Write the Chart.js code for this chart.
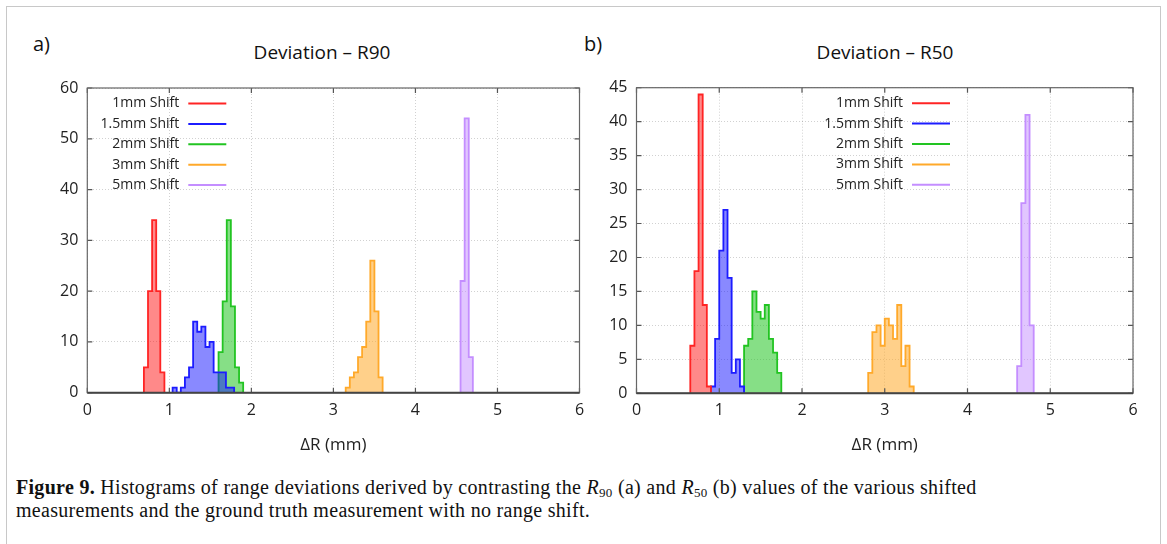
<!DOCTYPE html>
<html><head><meta charset="utf-8">
<script src="https://cdn.jsdelivr.net/npm/chart.js@4"></script>
<style>
html,body{margin:0;padding:0;background:#fff;overflow:hidden;width:1167px;height:544px;}
#frame{position:absolute;left:6px;top:6px;width:1153px;height:620px;border:1px solid #c8c8c8;}
canvas{position:absolute;}
.lbl{position:absolute;font-family:'Open Sans',sans-serif;font-size:20px;color:#111;white-space:nowrap;line-height:24px;}
.ttl{position:absolute;font-family:'Open Sans',sans-serif;font-size:19px;color:#111;white-space:nowrap;width:300px;text-align:center;line-height:24px;}
#cap{position:absolute;left:16px;top:476px;font-family:'Liberation Serif',serif;font-size:20px;letter-spacing:0.3px;line-height:23px;color:#111;white-space:nowrap;}
#cap sub{font-size:13px;vertical-align:-3px;line-height:0;}
</style></head>
<body>
<div id="frame"></div>
<div class="lbl" style="left:33px;top:32px;">a)</div>
<div class="lbl" style="left:584px;top:32px;">b)</div>
<div class="ttl" style="left:172px;top:40px;">Deviation – R90</div>
<div class="ttl" style="left:735px;top:40px;">Deviation – R50</div>
<canvas id="ca" width="600" height="470" style="left:0;top:0;"></canvas>
<canvas id="cb" width="577" height="470" style="left:590px;top:0;"></canvas>
<div id="cap"><b>Figure 9.</b> Histograms of range deviations derived by contrasting the <i>R</i><sub>90</sub> (a) and <i>R</i><sub>50</sub> (b) values of the various shifted<br>measurements and the ground truth measurement with no range shift.</div>
<script>
// ---- data ----
const seriesLabels = ['1mm Shift', '1.5mm Shift', '2mm Shift', '3mm Shift', '5mm Shift'];
const binWidth = 0.05;
const xTickValues = [0, 1, 2, 3, 4, 5, 6];
// Panel a: R90 deviations (first bin left edge, counts per bin)
const r90Start = [0.69, 1.04, 1.60, 3.15, 4.55];
const r90_1mm   = [5, 20, 34, 20, 4];
const r90_1p5mm = [1, 0, 1, 3, 5, 14, 12, 13, 9, 10, 4, 4, 4, 1, 1];
const r90_2mm   = [8, 18, 34, 17, 5, 2];
const r90_3mm   = [1, 3, 4, 7, 9, 14, 26, 16, 3];
const r90_5mm   = [22, 54, 7];
// Panel b: R50 deviations
const r50Start = [0.65, 0.90, 1.30, 2.80, 4.60];
const r50_1mm   = [7, 18, 44, 13, 1];
const r50_1p5mm = [1, 8, 21, 27, 17, 3, 5, 1];
const r50_2mm   = [7, 8, 15, 12, 11, 13, 8, 6, 3];
const r50_3mm   = [3, 9, 10, 7, 11, 10, 8, 13, 4, 7, 1];
const r50_5mm   = [4, 28, 41, 10];

// ---- styles ----
const lineColors = ['#ff2424', '#1c1cff', '#22c422', '#ffa92a', '#c48eff'];
const fillColors = ['rgba(255,20,20,0.5)', 'rgba(20,20,255,0.5)', 'rgba(34,196,34,0.55)', 'rgba(255,169,42,0.55)', 'rgba(196,142,255,0.5)'];
const FONT = "'Open Sans', sans-serif";

function histPoints(start, counts) {
  const pts = [{x: start, y: 0}];
  counts.forEach((c, i) => pts.push({x: start + i * binWidth, y: c}));
  pts.push({x: start + counts.length * binWidth, y: 0});
  return pts;
}

function datasets(starts, groups) {
  return groups.map((g, i) => ({
    label: seriesLabels[i],
    data: histPoints(starts[i], g),
    borderColor: lineColors[i],
    backgroundColor: fillColors[i],
    borderWidth: 1.8,
    pointRadius: 0,
    stepped: true,
    fill: 'origin',
    tension: 0
  }));
}

const framePlugin = {
  id: 'frameTicks',
  afterDraw(chart, args, opts) {
    const {ctx, chartArea: a, scales} = chart;
    ctx.save();
    ctx.strokeStyle = '#555';
    ctx.lineWidth = 1.2;
    ctx.beginPath();
    scales.x.ticks.forEach(t => {
      const px = scales.x.getPixelForValue(t.value);
      ctx.moveTo(px, a.bottom); ctx.lineTo(px, a.bottom - 5);
      ctx.moveTo(px, a.top); ctx.lineTo(px, a.top + 5);
    });
    scales.y.ticks.forEach(t => {
      const py = scales.y.getPixelForValue(t.value);
      ctx.moveTo(a.left, py); ctx.lineTo(a.left + 5, py);
      ctx.moveTo(a.right, py); ctx.lineTo(a.right - 5, py);
    });
    ctx.stroke();
    ctx.strokeStyle = '#666';
    ctx.lineWidth = 1.2;
    ctx.strokeRect(a.left, a.top, a.right - a.left, a.bottom - a.top);
    ctx.strokeStyle = '#444';
    ctx.lineWidth = 2;
    ctx.beginPath(); ctx.moveTo(a.left, a.bottom); ctx.lineTo(a.right, a.bottom); ctx.stroke();
    // legend
    ctx.font = '14px ' + FONT;
    ctx.textAlign = 'right';
    ctx.textBaseline = 'middle';
    chart.data.datasets.forEach((ds, i) => {
      const y = a.top + opts.legendTop + i * 20.4;
      const xr = a.left + opts.legendRight;
      ctx.fillStyle = '#222';
      ctx.fillText(ds.label, xr, y);
      ctx.strokeStyle = ds.borderColor;
      ctx.lineWidth = 2;
      ctx.beginPath(); ctx.moveTo(xr + 9, y); ctx.lineTo(xr + 47, y); ctx.stroke();
    });
    ctx.restore();
  }
};

function makeChart(id, ds, yMax, yStep, yWidth, xHeight, pad, legendRight) {
  return new Chart(document.getElementById(id), {
    type: 'line',
    data: {datasets: ds},
    plugins: [framePlugin],
    options: {
      responsive: false,
      animation: false,
      layout: {padding: pad},
      plugins: {
        legend: {display: false},
        tooltip: {enabled: false},
        frameTicks: {legendRight: legendRight, legendTop: 15.5}
      },
      scales: {
        x: {
          type: 'linear', min: 0, max: 6,
          afterBuildTicks: s => { s.ticks = xTickValues.map(v => ({value: v})); },
          ticks: {stepSize: 1, padding: 8, color: '#222', font: {family: FONT, size: 16}},
          grid: {color: 'rgba(0,0,0,0.18)', lineWidth: 1, drawTicks: false},
          border: {display: false, dash: [1, 2]},
          title: {display: true, text: 'ΔR (mm)', color: '#222', font: {family: FONT, size: 17}, padding: {top: 0, bottom: 15}},
          afterFit: s => { s.height = xHeight; }
        },
        y: {
          min: 0, max: yMax,
          ticks: {stepSize: yStep, padding: 9, color: '#222', font: {family: FONT, size: 16}},
          grid: {color: 'rgba(0,0,0,0.18)', lineWidth: 1, drawTicks: false},
          border: {display: false, dash: [1, 2]},
          afterFit: s => { s.width = yWidth; }
        }
      }
    }
  });
}

makeChart('ca', datasets(r90Start, [r90_1mm, r90_1p5mm, r90_2mm, r90_3mm, r90_5mm]),
  60, 10, 87.3, 77.3, {top: 88, right: 20.5, bottom: 0, left: 0}, 92);
makeChart('cb', datasets(r50Start, [r50_1mm, r50_1p5mm, r50_2mm, r50_3mm, r50_5mm]),
  45, 5, 46.5, 76.7, {top: 87.7, right: 34, bottom: 0, left: 0}, 266.5);
</script>
</body></html>
